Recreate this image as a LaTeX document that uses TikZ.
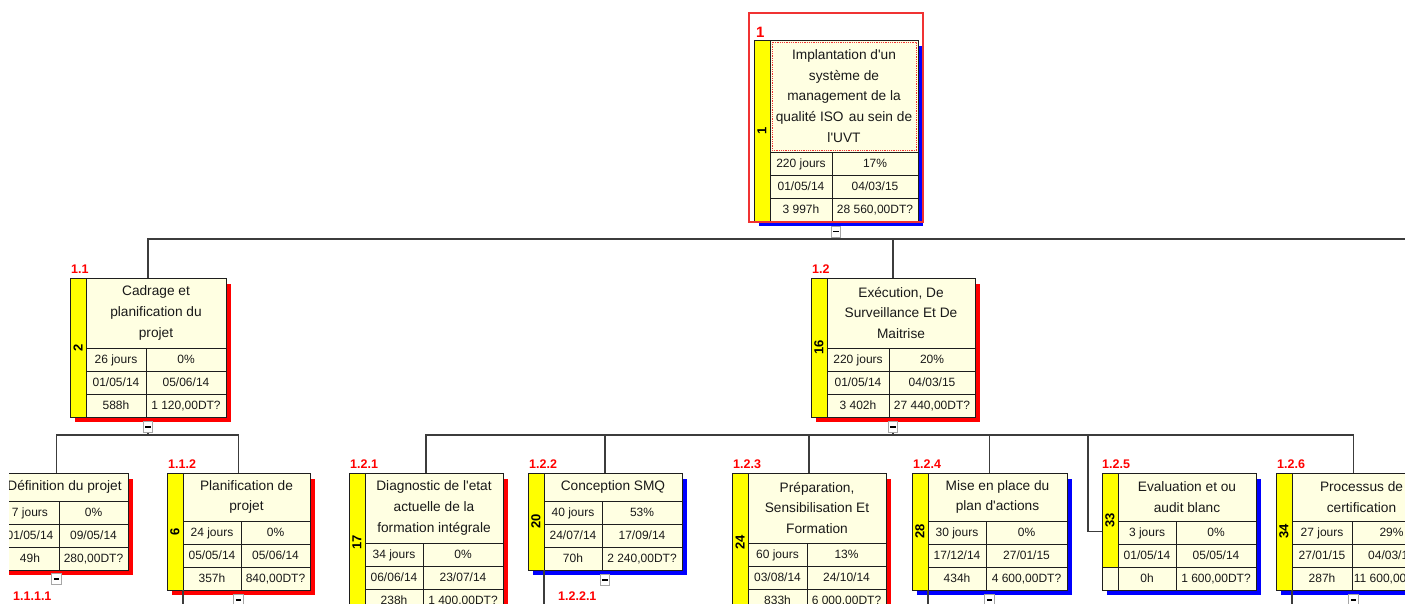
\documentclass[tikz,border=0pt]{standalone}
\usepackage{fontspec}
\setmainfont{Liberation Sans}[Ligatures=TeXOff]
\usetikzlibrary{calc}

\definecolor{cream}{RGB}{255,255,226}
\definecolor{wbsyellow}{RGB}{255,255,0}
\definecolor{conncol}{RGB}{60,60,60}
\definecolor{framecol}{RGB}{30,30,30}
\definecolor{idred}{RGB}{255,0,0}
\definecolor{selred}{RGB}{240,50,50}

\tikzset{
  wbsbox/.style={draw=framecol, fill=cream, line width=1pt, inner sep=0pt, outer sep=0pt},
  wbsbar/.style={draw=framecol, fill=wbsyellow, line width=1pt},
  wbsrule/.style={draw=framecol, line width=1pt},
  wbstitle/.style={align=center, inner sep=0pt, text=black!90, font=\fontsize{13.7}{20.8}\selectfont},
  wbscell/.style={anchor=base, inner sep=0pt, text=black!90, font=\fontsize{12}{14}\selectfont},
  wbsid/.style={rotate=90, inner sep=0pt, font=\fontsize{13}{14}\selectfont\bfseries},
  wbslabel/.style={anchor=base west, inner sep=0pt, text=idred, font=\fontsize{12.5}{14}\selectfont\bfseries},
  conn/.style={draw=conncol, line width=1.6pt},
  toggle/.style={draw=gray!70, fill=white, line width=1pt, minimum width=9.5pt,
    minimum height=11pt, inner sep=0pt,
    path picture={\draw[black, line width=1.8pt]
      ([xshift=-2.6pt]path picture bounding box.center) --
      ([xshift=2.6pt]path picture bounding box.center);}},
}

% WBS box: #1 name, #2 left, #3 top, #4 width, #5 title height,
% #6 width of first data column, #7 shadow colour, #8 number in the bar, #9 title
\newcommand\wbsnode[9]{%
  \pgfmathsetmacro\wbL{#2}%
  \pgfmathsetmacro\wbT{#3}%
  \pgfmathsetmacro\wbR{#2+#4}%
  \pgfmathsetmacro\wbH{#5+69}%
  \pgfmathsetmacro\wbB{#3+#5+69}%
  \pgfmathsetmacro\wbY{#2+16}%
  \pgfmathsetmacro\wbD{#2+16+#6}%
  \pgfmathsetmacro\wbA{#3+#5}%
  \fill[#7] (\wbL+5,\wbT+6) rectangle (\wbR+5,\wbB+5);
  \node[wbsbox, minimum width=#4pt, minimum height=\wbH pt, anchor=north west] (#1) at (\wbL,\wbT) {};
  \filldraw[wbsbar] (\wbL,\wbT) rectangle (\wbY,\wbB);
  \draw[wbsrule] (\wbY,\wbA) -- (\wbR,\wbA) (\wbY,\wbA+23) -- (\wbR,\wbA+23)
    (\wbY,\wbA+46) -- (\wbR,\wbA+46) (\wbD,\wbA) -- (\wbD,\wbB);
  \node[wbsid] (#1-id) at (\wbL+8,{(\wbT+\wbB)/2}) {#8};
  \node[wbstitle] (#1-title) at ({(\wbY+\wbR)/2},{\wbT+#5/2}) {#9};
}

% Data rows of the last box: #1 name, then duration, progress, start, end, work, cost
\newcommand\wbsrows[7]{%
  \node[wbscell] (#1-a) at ({(\wbY+\wbD)/2},\wbA+15.8) {#2};
  \node[wbscell] (#1-b) at ({(\wbD+\wbR)/2},\wbA+15.8) {#3};
  \node[wbscell] (#1-c) at ({(\wbY+\wbD)/2},\wbA+38.8) {#4};
  \node[wbscell] (#1-d) at ({(\wbD+\wbR)/2},\wbA+38.8) {#5};
  \node[wbscell] (#1-e) at ({(\wbY+\wbD)/2},\wbA+61.8) {#6};
  \node[wbscell] (#1-f) at ({(\wbD+\wbR)/2},\wbA+61.8) {#7};
}

\begin{document}
\begin{tikzpicture}[x=1pt,y=-1pt]
\useasboundingbox (0,0) rectangle (1405,603);
\begin{scope}
\clip (9,0) rectangle (1405,603);

% ---------- level 1
\wbsnode{n1}{754}{40}{164}{112}{62}{blue}{1}{Implantation d'un\\système de\\management de la\\qualité ISO\hspace{1.5pt} au sein de\\l'UVT}
\wbsrows{n1}{220 jours}{17\%}{01/05/14}{04/03/15}{3 997h}{28 560,00DT?}
\draw[selred, densely dotted, line width=0.8pt] (\wbY+2,\wbT+2) rectangle (\wbR-2,\wbA-2);
\draw[draw=selred, line width=1.3pt] (749,13) rectangle (923,222);
\node[wbslabel, font=\fontsize{15}{16}\selectfont\bfseries] (lab1) at (756,37) {1};

% ---------- level 2
\wbsnode{n11}{70}{278}{156}{70}{60}{red}{2}{Cadrage et\\planification du\\projet}
\wbsrows{n11}{26 jours}{0\%}{01/05/14}{05/06/14}{588h}{1 120,00DT?}
\node[wbslabel] (lab11) at (71,273) {1.1};

\wbsnode{n12}{811}{278}{164}{70}{62}{red}{16}{Exécution, De\\Surveillance Et De\\Maitrise}
\wbsrows{n12}{220 jours}{20\%}{01/05/14}{04/03/15}{3 402h}{27 440,00DT?}
\node[wbslabel] (lab12) at (812,273) {1.2};

% ---------- level 3
\wbsnode{n111}{-15}{473}{143}{28}{58}{red}{}{Définition du projet}
\wbsrows{n111}{7 jours}{0\%}{01/05/14}{09/05/14}{49h}{280,00DT?}

\wbsnode{n112}{167}{473}{143}{48}{58}{red}{6}{Planification de\\projet}
\wbsrows{n112}{24 jours}{0\%}{05/05/14}{05/06/14}{357h}{840,00DT?}
\node[wbslabel] (lab112) at (168,468) {1.1.2};

\wbsnode{n121}{349}{473}{154}{70}{58}{red}{17}{Diagnostic de l'etat\\actuelle de la\\formation intégrale}
\wbsrows{n121}{34 jours}{0\%}{06/06/14}{23/07/14}{238h}{1 400,00DT?}
\node[wbslabel] (lab121) at (350,468) {1.2.1};

\wbsnode{n122}{528}{473}{154}{28}{58}{blue}{20}{Conception SMQ}
\wbsrows{n122}{40 jours}{53\%}{24/07/14}{17/09/14}{70h}{2 240,00DT?}
\node[wbslabel] (lab122) at (529,468) {1.2.2};

\wbsnode{n123}{732}{473}{154}{70}{59}{red}{24}{Préparation,\\Sensibilisation Et\\Formation}
\wbsrows{n123}{60 jours}{13\%}{03/08/14}{24/10/14}{833h}{6 000,00DT?}
\node[wbslabel] (lab123) at (733,468) {1.2.3};

\wbsnode{n124}{912}{473}{155}{48}{58}{blue}{28}{Mise en place du\\plan d'actions}
\wbsrows{n124}{30 jours}{0\%}{17/12/14}{27/01/15}{434h}{4 600,00DT?}
\node[wbslabel] (lab124) at (913,468) {1.2.4};

\wbsnode{n125}{1102}{473}{154}{48}{58}{blue}{}{Evaluation et ou\\audit blanc}
\wbsrows{n125}{3 jours}{0\%}{01/05/14}{05/05/14}{0h}{1 600,00DT?}
% the bar of this box stops above the last row
\filldraw[wbsbox] (\wbL,\wbA+46) rectangle (\wbY,\wbB);
\node[wbsid] (n125-num) at (\wbL+8,{(\wbT+\wbA+46)/2}) {33};
\node[wbslabel] (lab125) at (1102,468) {1.2.5};

\wbsnode{n126}{1276}{473}{155}{48}{60}{blue}{34}{Processus de\\certification}
\wbsrows{n126}{27 jours}{29\%}{27/01/15}{04/03/15}{287h}{11 600,00DT?}
\node[wbslabel] (lab126) at (1277,468) {1.2.6};

% ---------- level 4 labels
\node[wbslabel] (lab1111) at (13,600) {1.1.1.1};
\node[wbslabel] (lab1221) at (558,600) {1.2.2.1};

% ---------- connectors
\coordinate (j1) at ([yshift=-18pt]n1.south);
\coordinate (e1) at (1410,239);
\draw[conn] (n11.north) |- (j1);
\draw[conn] (n12.north) |- (j1) -- (e1);
\node[toggle] (t1) at ([yshift=-10.5pt]n1.south) {};
\draw[conn] (t1) -- (j1);

\coordinate (j11) at ([yshift=-18pt]n11.south);
\draw[conn] (n111.north) |- (j11);
\draw[conn] (n112.north) |- (j11);
\node[toggle] (t11) at ([yshift=-10pt]n11.south) {};
\draw[conn] (t11) -- (j11);

\coordinate (j12) at ([yshift=-18pt]n12.south);
\draw[conn] (n121.north) |- (j12);
\draw[conn] (n122.north) |- (j12);
\draw[conn] (n123.north) |- (j12);
\draw[conn] (n124.north) |- (j12);
\draw[conn] (n126.north) |- (j12);
\draw[conn] (n125.west) -- ++(-14,0) |- (j12);
\node[toggle] (t12) at ([yshift=-10pt]n12.south) {};
\draw[conn] (t12) -- (j12);

% lists of sub-tasks hanging below level 3
\node[toggle] (t111) at ([yshift=-9pt]n111.south) {};
\draw[conn] ([xshift=16pt]n112.south west) -- ++(0,15) coordinate (d112);
\node[toggle] (t112) at ([yshift=-10pt]n112.south) {};
\draw[conn] ([xshift=16pt]n122.south west) -- ++(0,40) coordinate (d122);
\node[toggle] (t122) at ([yshift=-10pt]n122.south) {};
\draw[conn] ([xshift=16pt]n124.south west) -- ++(0,15) coordinate (d124);
\node[toggle] (t124) at ([yshift=-10pt]n124.south) {};
\draw[conn] ([xshift=16pt]n126.south west) -- ++(0,15) coordinate (d126);
\node[toggle] (t126) at ([yshift=-10pt]n126.south) {};
\end{scope}
\end{tikzpicture}
\end{document}
